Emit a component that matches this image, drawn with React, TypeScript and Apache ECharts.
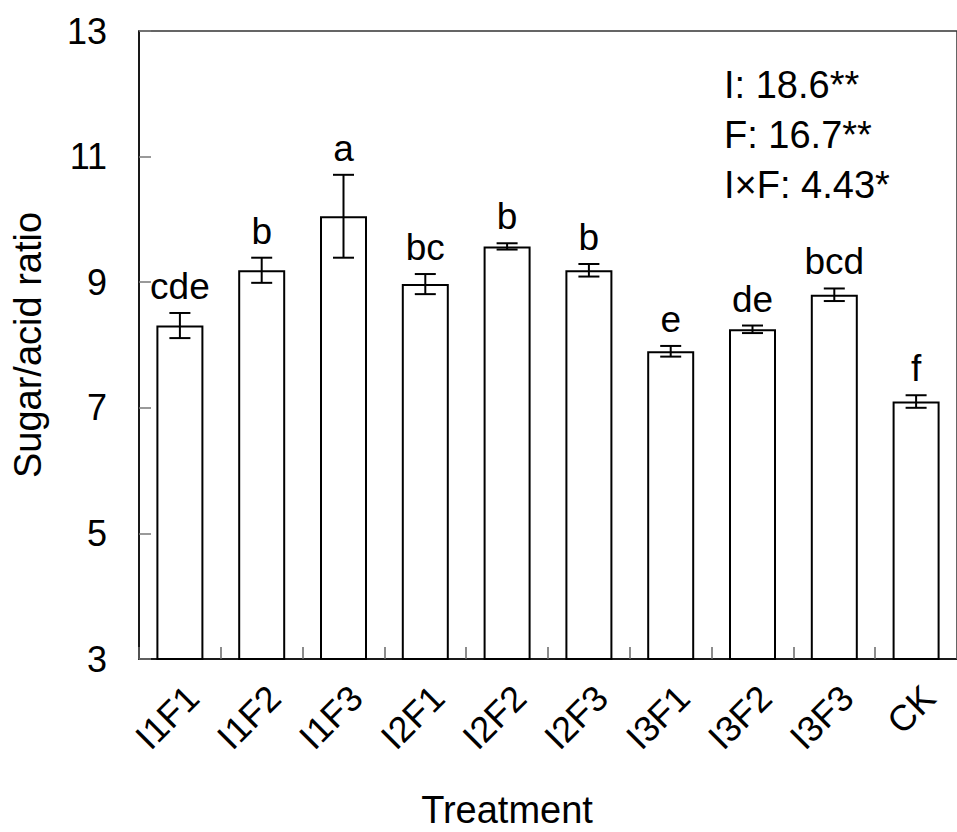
import React, { useEffect, useRef } from "react";
import * as echarts from "echarts";

const categories = ["I1F1", "I1F2", "I1F3", "I2F1", "I2F2", "I2F3", "I3F1", "I3F2", "I3F3", "CK"];
const means = [8.31, 9.19, 10.05, 8.97, 9.57, 9.19, 7.9, 8.25, 8.8, 7.1];
const errors = [0.2, 0.2, 0.66, 0.16, 0.05, 0.1, 0.085, 0.06, 0.1, 0.1];
const letters = ["cde", "b", "a", "bc", "b", "b", "e", "de", "bcd", "f"];
const yTicks = { min: 3, max: 13, interval: 2 };
const anovaLines = ["I: 18.6**", "F: 16.7**", "I\u00d7F: 4.43*"];
const xTitle = "Treatment";
const yTitle = "Sugar/acid ratio";

const FONT = "'Liberation Sans', Arial, sans-serif";

export default function App() {
  const ref = useRef<HTMLDivElement>(null);
  useEffect(() => {
    document.body.style.margin = "0";
    const chart = echarts.init(ref.current!, undefined, { renderer: "svg" });
    const option: any = {
      animation: false,
      backgroundColor: "#fff",
      textStyle: { fontFamily: FONT, color: "#000" },
      grid: {
        left: 139,
        top: 31,
        width: 824,
        height: 628,
        show: true,
        borderColor: "#333",
        borderWidth: 1.5,
        backgroundColor: "transparent",
      },
      xAxis: {
        type: "category",
        data: categories,
        axisLine: { lineStyle: { color: "#000", width: 1.5 } },
        axisTick: { show: true, inside: true, length: 12, alignWithLabel: false, lineStyle: { color: "#666", width: 1.5 } },
        axisLabel: { rotate: 45, fontSize: 36, color: "#000", margin: 20, verticalAlign: "top", fontFamily: FONT },
        splitLine: { show: false },
      },
      yAxis: {
        type: "value",
        min: yTicks.min,
        max: yTicks.max,
        interval: yTicks.interval,
        name: yTitle,
        nameLocation: "middle",
        nameGap: 92,
        nameTextStyle: { fontSize: 38, color: "#000", fontFamily: FONT },
        axisLine: { show: true, lineStyle: { color: "#000", width: 1.5 } },
        axisTick: { show: true, inside: true, length: 12, lineStyle: { color: "#777", width: 1.5 } },
        axisLabel: { fontSize: 36, color: "#000", margin: 32, fontFamily: FONT },
        splitLine: { show: false },
      },
      series: [
        {
          type: "bar",
          data: means,
          barWidth: 47,
          itemStyle: { color: "#fff", borderColor: "#000", borderWidth: 2 },
          z: 2,
        },
        {
          type: "custom",
          data: means.map((m, i) => [i, m, errors[i]]),
          z: 3,
          renderItem: (params: any, api: any) => {
            const i = api.value(0);
            const m = api.value(1);
            const e = api.value(2);
            const top = api.coord([i, m + e]);
            const bot = api.coord([i, m - e]);
            const hw = 10.5;
            const style = { stroke: "#000", lineWidth: 2 };
            return {
              type: "group",
              children: [
                { type: "line", shape: { x1: top[0], y1: top[1], x2: bot[0], y2: bot[1] }, style },
                { type: "line", shape: { x1: top[0] - hw, y1: top[1], x2: top[0] + hw, y2: top[1] }, style },
                { type: "line", shape: { x1: bot[0] - hw, y1: bot[1], x2: bot[0] + hw, y2: bot[1] }, style },
                {
                  type: "text",
                  style: {
                    text: letters[params.dataIndex],
                    x: top[0],
                    y: top[1] - 8,
                    align: "center",
                    verticalAlign: "bottom",
                    fontSize: 37,
                    fontFamily: FONT,
                    fill: "#000",
                  },
                },
              ],
            };
          },
        },
      ],
      graphic: [
        ...anovaLines.map((t, k) => ({
          type: "text",
          left: 724,
          top: 85 + k * 50 - 19,
          style: { text: t, fontSize: 38, fontFamily: FONT, fill: "#000" },
        })),
        {
          type: "text",
          x: 507,
          y: 810,
          style: { text: xTitle, fontSize: 38, fontFamily: FONT, fill: "#000", align: "center", verticalAlign: "middle" },
        },
      ],
    };
    chart.setOption(option);
    return () => chart.dispose();
  }, []);
  return <div ref={ref} style={{ position: "fixed", left: 0, top: 0, width: 957, height: 832 }} />;
}
